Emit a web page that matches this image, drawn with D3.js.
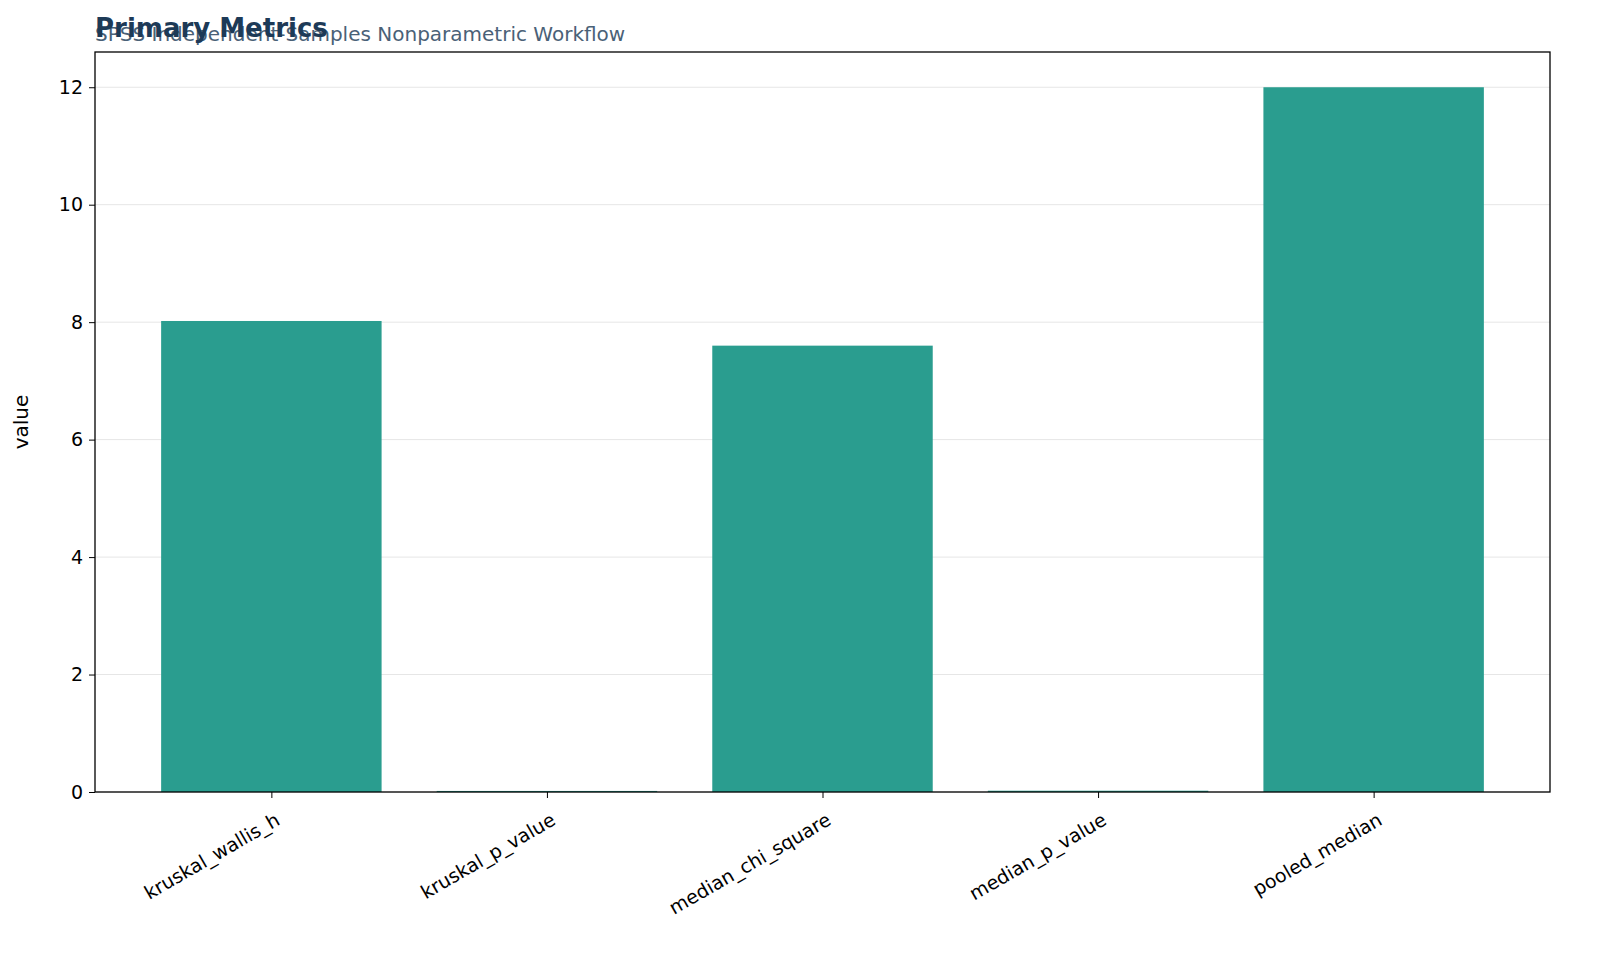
<!DOCTYPE html><html><head><meta charset="utf-8">
<script src="https://cdn.jsdelivr.net/npm/d3@7"></script>
<style>body{margin:0;background:#fff}text{font-family:"DejaVu Sans",sans-serif}</style></head><body>
<svg id="c" width="1600" height="978"></svg>
<script>
const categories=["kruskal_wallis_h","kruskal_p_value","median_chi_square","median_p_value","pooled_median"];
const values=[8.02,0.018,7.6,0.022,12.0];
const yTicks=[0,2,4,6,8,10,12];
const svg=d3.select("#c");
const L=95,R=1550,T=52,B=792;
const x=d3.scaleLinear().domain([-0.64,4.64]).range([L,R]);
const y=d3.scaleLinear().domain([0,12.6]).range([B,T]);
const g=svg.append("g");
g.selectAll("line.grid").data(yTicks).join("line").attr("x1",L).attr("x2",R)
 .attr("y1",d=>y(d)).attr("y2",d=>y(d)).attr("stroke","#e6e6e6").attr("stroke-width",1);
g.selectAll("rect").data(values).join("rect").attr("x",(d,i)=>x(i-0.4)).attr("width",x(0.8)-x(0))
 .attr("y",d=>y(d)).attr("height",d=>B-y(d)).attr("fill","#2a9d8f");
const ya=d3.axisLeft(y).tickValues(yTicks).tickSize(6).tickPadding(6);
svg.append("g").attr("transform",`translate(${L},0)`).call(ya).call(a=>a.select(".domain").remove())
 .selectAll("text").attr("font-size",19).attr("fill","#000");
const xa=d3.axisBottom(x).tickValues(d3.range(5)).tickFormat(i=>categories[i]).tickSize(6).tickPadding(6);
svg.append("g").attr("transform",`translate(0,${B})`).call(xa).call(a=>a.select(".domain").remove())
 .selectAll("text").attr("font-size",19).attr("fill","#000").attr("text-anchor","end")
 .attr("dy","0.35em").attr("x",0).attr("y",0).attr("transform","translate(6,26) rotate(-30)");
svg.append("rect").attr("x",L).attr("y",T).attr("width",R-L).attr("height",B-T).attr("fill","none").attr("stroke","#000").attr("stroke-width",1.3);
svg.append("text").attr("x",28).attr("y",(T+B)/2).attr("transform",`rotate(-90,28,${(T+B)/2})`).attr("text-anchor","middle").attr("font-size",20).text("value");
svg.append("text").attr("x",95).attr("y",41).attr("font-size",20).attr("fill","#4a6177").text("SPSS Independent-Samples Nonparametric Workflow");
svg.append("text").attr("x",95).attr("y",37).attr("font-size",26).attr("font-weight","bold").attr("fill","#1d3a57").text("Primary Metrics");
</script></body></html>
